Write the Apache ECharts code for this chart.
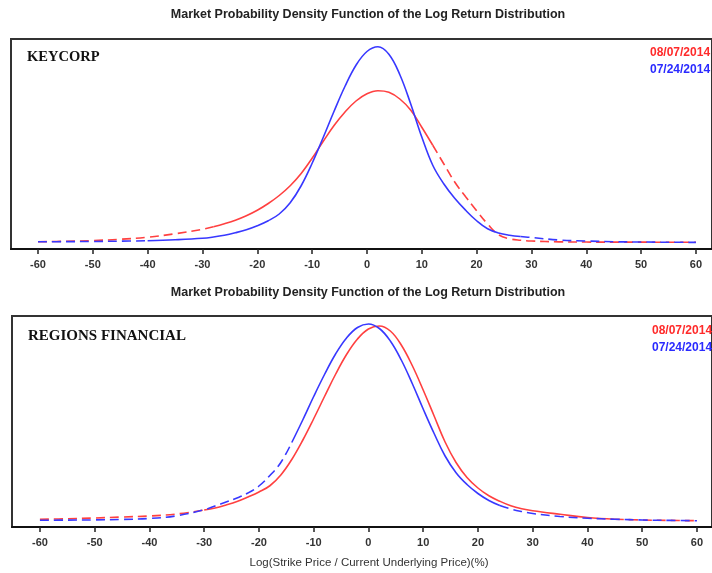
<!DOCTYPE html>
<html><head><meta charset="utf-8">
<script src="https://cdn.jsdelivr.net/npm/echarts@6/dist/echarts.min.js"></script>
<style>html,body{margin:0;padding:0;background:#fff}#c{width:712px;height:573px}</style>
</head><body><div id="c"></div>
<script>
// x: log(strike / current underlying price) in %
const xs = [-60,-55,-50,-45,-40,-35,-30,-28,-26,-24,-22,-20,-18,-16,-14,-12,-10,-8,-6,-4,-2,0,2,4,6,8,10,12,14,16,18,20,22,24,26,28,30,35,40,45,50,55,60];
const tickValues = [-60,-50,-40,-30,-20,-10,0,10,20,30,40,50,60];
const dateA = '08/07/2014';
const dateB = '07/24/2014';
// KEYCORP
const keyRed  = [.0004,.0006,.00088,.0014,.0022,.0036,.0054,.0064,.0076,.0090,.0108,.0130,.0157,.0189,.0228,.0277,.0338,.0405,.0469,.0523,.0567,.0596,.0608,.0602,.0575,.0530,.0462,.0390,.0316,.0243,.0184,.0128,.0075,.0032,.0016,.0010,.0007,.00036,.00028,.00024,.00024,.0002,.0002];
const keyBlue = [.0004,.00044,.00052,.00064,.0008,.0012,.0018,.0023,.0030,.0040,.0052,.0068,.0088,.0115,.0160,.0228,.0318,.0420,.0526,.0626,.0710,.0765,.0784,.0754,.0672,.0554,.0423,.0310,.0236,.0178,.0130,.0088,.0056,.0039,.0030,.0025,.0021,.0011,.0007,.0004,.0003,.0002,.00016];
// REGIONS FINANCIAL
const regRed  = [.00088,.0011,.0014,.0018,.0022,.0030,.0046,.0054,.0066,.0080,.0098,.0118,.0143,.0186,.0248,.0325,.0411,.0501,.0589,.0668,.0730,.0770,.0782,.0762,.0706,.0624,.0526,.0422,.0318,.0236,.0176,.0134,.0103,.0081,.0063,.0051,.0043,.0029,.0016,.0009,.0006,.00044,.00032];
const regBlue = [.00048,.00056,.00064,.00084,.0012,.0023,.0047,.0062,.0078,.0094,.0114,.0142,.0184,.0236,.0316,.0406,.0500,.0589,.0670,.0734,.0776,.0790,.0772,.0722,.0646,.0552,.0450,.0352,.0262,.0195,.0148,.0112,.0084,.0064,.0050,.0040,.0032,.0020,.0013,.0009,.0006,.00044,.00032];
// range where each curve is drawn solid (outside: dashed tails)
const keyRedSolid = [-28, 12], keyBlueSolid = [-40, 28];
const regRedSolid = [-30, 45], regBlueSolid = [-14, 24];

const RED = '#ff4040', BLUE = '#3838ff';
const FONT = "'Liberation Sans', Arial, sans-serif";

function segs(vals, solid, color, gi) {
  const pts = xs.map((x, i) => [x, vals[i]]);
  const left = pts.filter(p => p[0] <= solid[0]);
  const mid = pts.filter(p => p[0] >= solid[0] && p[0] <= solid[1]);
  const right = pts.filter(p => p[0] >= solid[1]);
  const mk = (data, dashed) => ({
    type: 'line', xAxisIndex: gi, yAxisIndex: gi, data, smooth: 0.4,
    showSymbol: false, silent: true,
    lineStyle: {color, width: 1.6, type: dashed ? [9, 5] : 'solid'}
  });
  return [mk(left, true), mk(mid, false), mk(right, true)];
}

function xAxis(gi, min, max) {
  return {
    type: 'value', gridIndex: gi, min, max,
    axisLine: {show: true, onZero: false, lineStyle: {color: '#111', width: 2}},
    axisTick: {show: true, customValues: tickValues, length: 5, lineStyle: {color: '#222', width: 1.5}},
    axisLabel: {customValues: tickValues, fontSize: 11, fontWeight: 'bold', color: '#333', fontFamily: FONT, margin: 10},
    splitLine: {show: false}
  };
}

const chart = echarts.init(document.getElementById('c'), null, {renderer: 'canvas'});
const title = 'Market Probability Density Function of the Log Return Distribution';
chart.setOption({
  animation: false,
  backgroundColor: '#fff',
  grid: [
    {left: 11, top: 39, right: 0, height: 210, show: true, borderColor: '#333', borderWidth: 2},
    {left: 12, top: 316, right: 0, height: 211, show: true, borderColor: '#333', borderWidth: 2}
  ],
  xAxis: [xAxis(0, -64.92, 62.93), xAxis(1, -65.1, 62.75)],
  yAxis: [
    {type: 'value', gridIndex: 0, min: -0.0025, max: 0.0815, show: false, splitLine: {show: false}},
    {type: 'value', gridIndex: 1, min: -0.0022, max: 0.0822, show: false, splitLine: {show: false}}
  ],
  series: [
    ...segs(keyRed, keyRedSolid, RED, 0),
    ...segs(keyBlue, keyBlueSolid, BLUE, 0),
    ...segs(regRed, regRedSolid, RED, 1),
    ...segs(regBlue, regBlueSolid, BLUE, 1)
  ],
  graphic: [
    {type: 'text', x: 368, y: 15, style: {text: title, font: "bold 12.5px " + FONT, fill: '#222', align: 'center', verticalAlign: 'middle'}},
    {type: 'text', x: 368, y: 293, style: {text: title, font: "bold 12.5px " + FONT, fill: '#222', align: 'center', verticalAlign: 'middle'}},
    {type: 'text', x: 369, y: 563, style: {text: 'Log(Strike Price / Current Underlying Price)(%)', font: "11.5px " + FONT, fill: '#333', align: 'center', verticalAlign: 'middle'}},
    {type: 'text', x: 27, y: 57, style: {text: 'KEYCORP', font: "bold 14.5px 'Liberation Serif', 'DejaVu Serif', serif", fill: '#111', verticalAlign: 'middle'}},
    {type: 'text', x: 28, y: 336, style: {text: 'REGIONS FINANCIAL', font: "bold 15px 'Liberation Serif', 'DejaVu Serif', serif", fill: '#111', verticalAlign: 'middle'}},
    {type: 'text', x: 650, y: 53, style: {text: dateA, font: "bold 12px " + FONT, fill: '#ff2a2a', verticalAlign: 'middle'}},
    {type: 'text', x: 650, y: 70, style: {text: dateB, font: "bold 12px " + FONT, fill: '#2a2aff', verticalAlign: 'middle'}},
    {type: 'text', x: 652, y: 331, style: {text: dateA, font: "bold 12px " + FONT, fill: '#ff2a2a', verticalAlign: 'middle'}},
    {type: 'text', x: 652, y: 348, style: {text: dateB, font: "bold 12px " + FONT, fill: '#2a2aff', verticalAlign: 'middle'}}
  ]
});
</script>
</body></html>
